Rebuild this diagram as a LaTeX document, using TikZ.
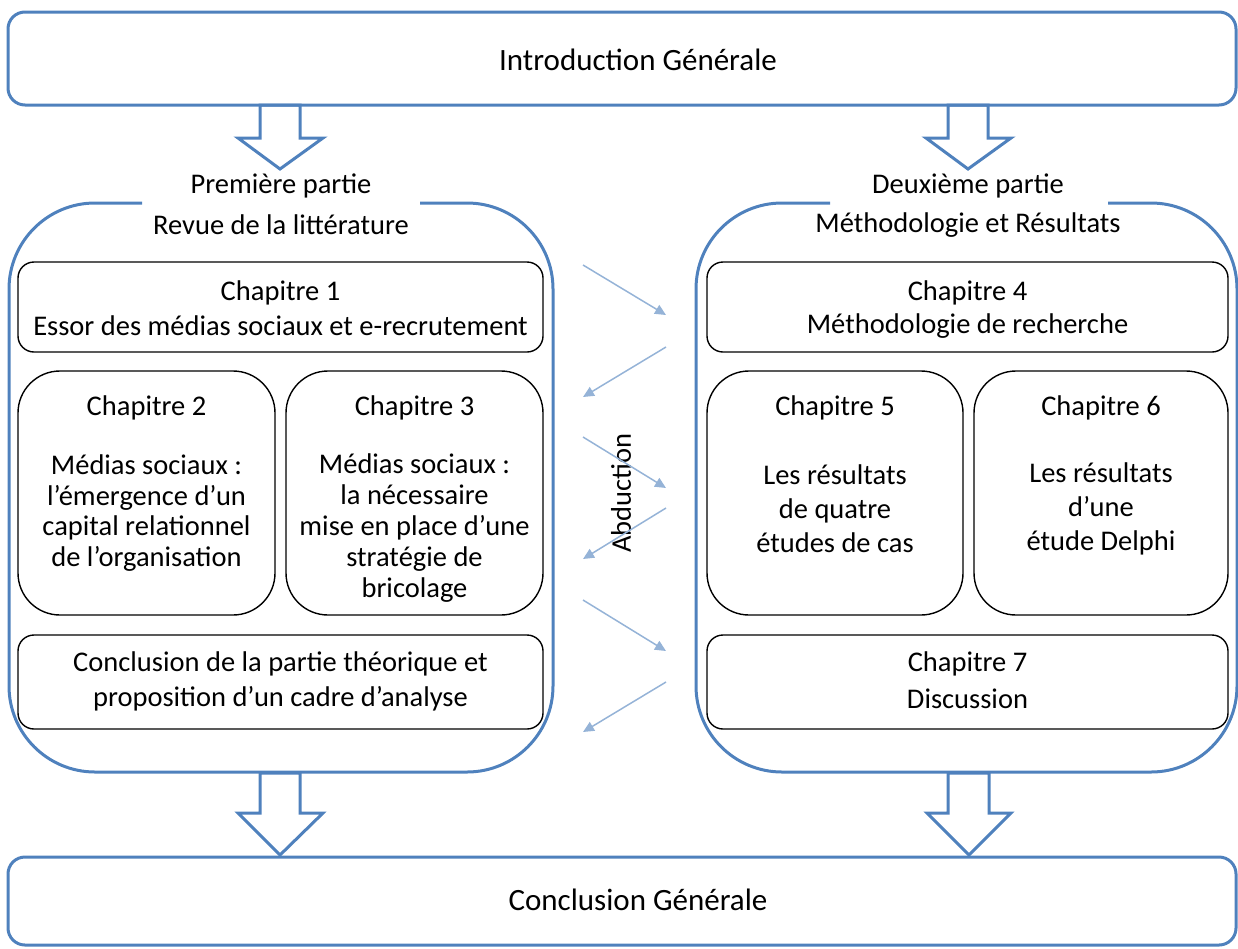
\documentclass[tikz,border=0pt]{standalone}
\usepackage{fontspec}
\setmainfont{Carlito}
\usetikzlibrary{arrows.meta}
\definecolor{frameblue}{HTML}{4F81BD}
\definecolor{linkblue}{HTML}{95B3D7}
\tikzset{
  bigframe/.style={draw=frameblue, line width=3pt, rounded corners=17pt, inner sep=0pt},
  part/.style={draw=frameblue, line width=3pt, rounded corners=86pt},
  chapbox/.style={draw=black, line width=1.4pt, rounded corners=16pt, inner sep=0pt},
  tallbox/.style={draw=black, line width=1.4pt, rounded corners=42pt, inner sep=0pt},
  txt/.style={font=\fontsize{28.5}{34}\selectfont, align=center, inner sep=0pt},
  tighttxt/.style={font=\fontsize{28.5}{30.8}\selectfont, align=center, inner sep=0pt},
  bigtxt/.style={font=\fontsize{31}{36}\selectfont, align=center, inner sep=0pt},
  blockarrow/.style={draw=frameblue, line width=3pt, fill=white, line join=miter},
  link/.style={draw=linkblue, line width=1.5pt, -{Triangle[length=11pt,width=10pt]}}
}
\begin{document}
\begin{tikzpicture}[x=1pt,y=-1pt]
\useasboundingbox (0,0) rectangle (1238,948);

% block arrows between the levels
\draw[blockarrow] (260,105) -- (260,138) -- (238,138) -- (280,169) -- (323,138) -- (300,138) -- (300,105) -- cycle;
\draw[blockarrow] (948,105) -- (948,138) -- (926,138) -- (968,169) -- (1011,138) -- (988,138) -- (988,105) -- cycle;
\draw[blockarrow] (260,773) -- (260,813) -- (238,813) -- (280,855) -- (323,813) -- (300,813) -- (300,773) -- cycle;
\draw[blockarrow] (948,773) -- (948,813) -- (927,813) -- (969,855) -- (1011,813) -- (989,813) -- (989,773) -- cycle;

% general introduction and conclusion
\node[bigframe, minimum width=1228pt, minimum height=93pt] (intro) at (622,58.5) {};
\node[bigtxt] (introtxt) at (638,60) {Introduction Générale};
\node[bigframe, minimum width=1228pt, minimum height=88pt] (concl) at (622,901) {};
\node[bigtxt] (concltxt) at (638,900) {Conclusion Générale};

% the two parts, top edge broken by their titles
\draw[part] (142,203) -- (9,203) -- (9,772) -- (553,772) -- (553,203) -- (420,203);
\draw[part] (830,203) -- (696,203) -- (696,772) -- (1237,772) -- (1237,203) -- (1108,203);
\node[txt] (p1a) at (281,186) {Première partie};
\node[txt] (p1b) at (281,225) {Revue de la littérature};
\node[txt] (p2a) at (968,186) {Deuxième partie};
\node[txt] (p2b) at (968,225) {Méthodologie et Résultats};

% first part chapters
\node[chapbox, minimum width=525pt, minimum height=90pt] (ch1) at (280.5,307) {};
\node[txt] at (280.5,293) {Chapitre 1};
\node[txt] at (280.5,326) {Essor des médias sociaux et e-recrutement};
\node[tallbox, minimum width=257pt, minimum height=244pt] (ch2) at (146.5,493) {};
\node[txt] at (146.5,408) {Chapitre 2};
\node[tighttxt] at (146.5,513) {Médias sociaux :\\l’émergence d’un\\capital relationnel\\de l’organisation};
\node[tallbox, minimum width=257pt, minimum height=244pt] (ch3) at (414.5,493) {};
\node[txt] at (414.5,408) {Chapitre 3};
\node[tighttxt] at (414.5,528) {Médias sociaux :\\la nécessaire\\mise en place d’une\\stratégie de\\bricolage};
\node[chapbox, minimum width=525pt, minimum height=94pt] (cpt) at (280.5,682) {};
\node[txt] at (280.5,664) {Conclusion de la partie théorique et};
\node[txt] at (280.5,699) {proposition d’un cadre d’analyse};

% second part chapters
\node[chapbox, minimum width=521pt, minimum height=90pt] (ch4) at (967.5,307) {};
\node[txt] at (967.5,293) {Chapitre 4};
\node[txt] at (967.5,326) {Méthodologie de recherche};
\node[tallbox, minimum width=256pt, minimum height=244pt] (ch5) at (835,493) {};
\node[txt] at (835,408) {Chapitre 5};
\node[txt] at (835,509) {Les résultats\\de quatre\\études de cas};
\node[tallbox, minimum width=254pt, minimum height=244pt] (ch6) at (1101,493) {};
\node[txt] at (1101,408) {Chapitre 6};
\node[txt] at (1101,509) {Les résultats\\d’une\\étude Delphi};
\node[chapbox, minimum width=521pt, minimum height=94pt] (ch7) at (967.5,682) {};
\node[txt] at (967.5,664) {Chapitre 7};
\node[txt] at (967.5,699) {Discussion};

% abduction back-and-forth
\node[txt, rotate=90] (abd) at (621,493) {Abduction};
\coordinate (l1) at (583,265); \coordinate (r1) at (666,315);
\coordinate (r2) at (666,347); \coordinate (l2) at (583,397);
\coordinate (l3) at (583,437); \coordinate (r3) at (666,488);
\coordinate (r4) at (666,508); \coordinate (l4) at (583,559);
\coordinate (l5) at (583,600); \coordinate (r5) at (666,651);
\coordinate (r6) at (666,682); \coordinate (l6) at (583,732);
\draw[link] (l1) -- (r1);
\draw[link] (r2) -- (l2);
\draw[link] (l3) -- (r3);
\draw[link] (r4) -- (l4);
\draw[link] (l5) -- (r5);
\draw[link] (r6) -- (l6);
\end{tikzpicture}
\end{document}
